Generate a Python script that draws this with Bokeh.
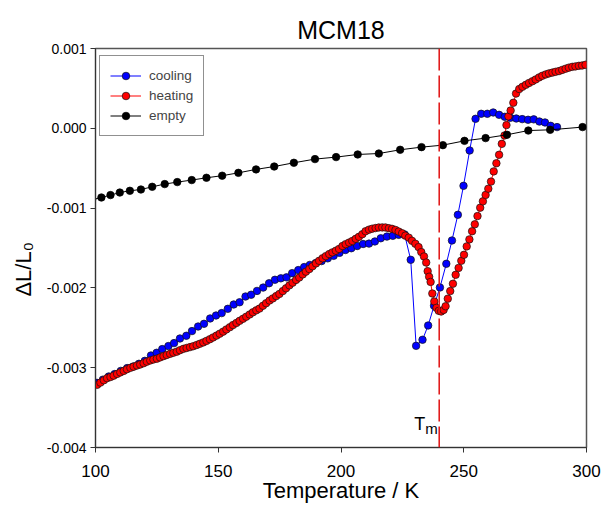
from bokeh.plotting import figure
from bokeh.models import (Range1d, FixedTicker, NumeralTickFormatter, Span, Label,
                          Legend, LegendItem)
from bokeh.embed import file_html
from bokeh.resources import INLINE

SCALE = 1e-3  # values below are in units of 1e-3

# ---------------- data ----------------
t_cool = [100.6, 103.0, 105.4, 107.8, 110.3, 112.9, 115.4, 117.7, 120.1, 122.6,
          124.9, 127.2, 129.7, 132.0, 134.4, 137.0, 139.3, 141.8, 144.2, 146.7,
          149.1, 151.4, 153.9, 156.3, 158.7, 161.1, 163.4, 165.8, 168.3, 170.7,
          173.1, 175.5, 177.8, 180.1, 182.6, 185.0, 187.3, 189.7, 192.1, 194.6,
          197.0, 199.4, 201.8, 204.2, 206.6, 209.0, 211.4, 213.8, 216.2, 218.7,
          221.1, 223.5, 225.9, 228.4, 230.6, 233.2, 235.5, 237.9, 240.3, 242.9,
          245.2, 247.6, 249.9, 252.4, 254.8, 257.1, 259.6, 262.0, 264.4, 266.7,
          269.0, 271.4, 273.8, 276.2, 278.5, 280.8, 283.1, 285.4, 288.0]
dl_cool = [-3.19, -3.15, -3.11, -3.08, -3.04, -3.005, -2.985, -2.951, -2.914, -2.847,
           -2.813, -2.767, -2.729, -2.692, -2.634, -2.600, -2.541, -2.484, -2.450, -2.383,
           -2.346, -2.316, -2.262, -2.208, -2.180, -2.108, -2.086, -2.038, -1.996, -1.942,
           -1.898, -1.880, -1.868, -1.815, -1.777, -1.739, -1.712, -1.689, -1.664, -1.630,
           -1.598, -1.560, -1.525, -1.503, -1.475, -1.450, -1.445, -1.418, -1.378, -1.357,
           -1.347, -1.335, -1.330, -1.648, -2.726, -2.650, -2.471, -2.224, -1.995, -1.698,
           -1.406, -1.084, -0.721, -0.278, 0.119, 0.182, 0.182, 0.198, 0.169, 0.144,
           0.132, 0.123, 0.115, 0.107, 0.112, 0.085, 0.073, 0.031, 0.015]

t_heat = [100.7, 102.0, 103.4, 104.7, 106.1, 107.4, 108.8, 110.1, 111.5, 112.8,
          114.2, 115.5, 116.9, 118.2, 119.6, 120.9, 122.3, 123.6, 125.0, 126.3,
          127.7, 129.0, 130.4, 131.7, 133.1, 134.4, 135.8, 137.1, 138.5, 139.8,
          141.2, 142.5, 143.9, 145.2, 146.6, 147.9, 149.3, 150.6, 152.0, 153.3,
          154.7, 156.0, 157.4, 158.7, 160.1, 161.4, 162.8, 164.1, 165.5, 166.8,
          168.2, 169.5, 170.9, 172.2, 173.6, 174.9, 176.3, 177.6, 179.0, 180.3,
          181.7, 183.0, 184.4, 185.7, 187.1, 188.4, 189.8, 191.1, 192.5, 193.8,
          195.2, 196.5, 197.9, 199.2, 200.6, 201.9, 203.3, 204.6, 206.0, 207.3,
          208.7, 210.0, 211.4, 212.7, 214.1, 215.4, 216.8, 218.1, 219.5, 220.8,
          222.2, 223.5, 224.9, 226.2, 227.6, 228.9, 230.3, 231.6, 232.7, 233.8,
          234.7, 235.3, 235.9, 236.5, 237.2, 238.0, 238.9, 239.8, 240.8, 241.8,
          242.6, 243.5, 244.5, 245.6, 246.7, 247.9, 249.0, 250.1, 251.2, 252.3,
          253.4, 254.5, 255.6, 256.7, 257.8, 258.9, 260.0, 261.1, 262.2, 263.3,
          264.4, 265.5, 266.6, 267.4, 268.2, 269.1, 270.2, 271.3, 272.6, 273.9,
          275.3, 276.6, 278.0, 279.3, 280.7, 282.0, 283.4, 284.7, 286.1, 287.4,
          288.8, 290.1, 291.5, 292.8, 294.2, 295.5, 296.9, 298.2, 299.6]
dl_heat = [-3.214, -3.187, -3.158, -3.132, -3.117, -3.100, -3.078, -3.059, -3.040, -3.020,
           -3.002, -2.987, -2.973, -2.960, -2.944, -2.925, -2.909, -2.897, -2.887, -2.871,
           -2.855, -2.841, -2.826, -2.813, -2.799, -2.781, -2.764, -2.753, -2.742, -2.731,
           -2.716, -2.700, -2.683, -2.664, -2.643, -2.621, -2.598, -2.574, -2.548, -2.521,
           -2.493, -2.466, -2.439, -2.413, -2.387, -2.361, -2.333, -2.306, -2.281, -2.259,
           -2.224, -2.192, -2.158, -2.132, -2.103, -2.076, -2.040, -2.005, -1.968, -1.935,
           -1.900, -1.870, -1.831, -1.797, -1.764, -1.729, -1.693, -1.660, -1.629, -1.602,
           -1.576, -1.555, -1.534, -1.512, -1.475, -1.452, -1.432, -1.412, -1.385, -1.360,
           -1.327, -1.290, -1.270, -1.258, -1.250, -1.243, -1.242, -1.243, -1.252, -1.260,
           -1.274, -1.294, -1.315, -1.345, -1.370, -1.410, -1.447, -1.489, -1.551, -1.606,
           -1.682, -1.790, -1.860, -1.925, -2.070, -2.170, -2.250, -2.287, -2.296, -2.276,
           -2.230, -2.135, -2.040, -1.948, -1.836, -1.750, -1.660, -1.585, -1.480, -1.392,
           -1.290, -1.203, -1.100, -0.995, -0.915, -0.835, -0.757, -0.668, -0.540, -0.438,
           -0.332, -0.195, -0.090, 0.040, 0.150, 0.223, 0.320, 0.435, 0.492, 0.520,
           0.545, 0.568, 0.590, 0.612, 0.638, 0.658, 0.675, 0.688, 0.698, 0.708,
           0.717, 0.732, 0.747, 0.760, 0.770, 0.776, 0.783, 0.787, 0.796]

t_empty = [98.6, 102.4, 106.1, 109.9, 114.0, 118.5, 123.1, 128.2, 133.3, 139.2, 145.2,
           151.6, 158.2, 165.4, 172.8, 180.8, 189.4, 198.0, 206.8, 215.4, 224.1,
           232.8, 241.5, 250.3, 258.9, 267.6, 276.3, 285.2, 298.4]
dl_empty = [-0.895, -0.867, -0.837, -0.805, -0.783, -0.767, -0.733, -0.699, -0.674, -0.649,
            -0.620, -0.594, -0.558, -0.515, -0.479, -0.432, -0.386, -0.361, -0.328,
            -0.316, -0.269, -0.236, -0.211, -0.157, -0.123, -0.081, -0.028, -0.019, 0.015]

x_ticks = [100, 150, 200, 250, 300]
y_ticks = [-0.004, -0.003, -0.002, -0.001, 0.0, 0.001]
tm = 240.0
series_names = ["cooling", "heating", "empty"]

FONT = "Liberation Sans"

p = figure(width=604, height=505, x_range=Range1d(100, 300), y_range=Range1d(-0.004, 0.001),
           output_backend="svg", toolbar_location=None, title="MCM18",
           min_border_left=95, min_border_right=18, min_border_top=48, min_border_bottom=58)

p.title.align = "center"
p.title.text_font = FONT
p.title.text_font_size = "25px"
p.title.text_font_style = "normal"
p.title.text_color = "#000000"

p.xgrid.visible = False
p.ygrid.visible = False
p.outline_line_color = "#555555"
p.outline_line_width = 1.5
p.background_fill_color = "white"
p.border_fill_color = "white"

p.xaxis.ticker = FixedTicker(ticks=x_ticks)
p.yaxis.ticker = FixedTicker(ticks=y_ticks)
p.yaxis.formatter = NumeralTickFormatter(format="0.000")
for ax in (p.xaxis, p.yaxis):
    ax.minor_tick_line_color = None
    ax.major_tick_in = 0
    ax.major_tick_out = 5
    ax.axis_line_color = "#333333"
    ax.major_tick_line_color = "#333333"
    ax.major_label_text_font = FONT
    ax.axis_label_text_font = FONT
    ax.axis_label_text_font_style = "normal"
    ax.major_label_text_color = "#000000"
    ax.axis_label_text_color = "#000000"

p.xaxis.axis_label = "Temperature / K"
# trailing no-break spaces shift the rotated label slightly downwards, as in the original
p.yaxis.axis_label = "ΔL/L₀" + "\u00a0" * 7
p.xaxis.major_label_text_font_size = "17px"
p.yaxis.major_label_text_font_size = "14px"
p.xaxis.axis_label_text_font_size = "22px"
p.yaxis.axis_label_text_font_size = "22px"
p.xaxis.major_label_standoff = 12
p.xaxis.axis_label_standoff = -2
p.yaxis.major_label_standoff = 4
p.yaxis.axis_label_standoff = 8

ys_cool = [v * SCALE for v in dl_cool]
ys_heat = [v * SCALE for v in dl_heat]
ys_empty = [v * SCALE for v in dl_empty]

l1 = p.line(t_cool, ys_cool, line_color="#0000ff", line_width=1)
s1 = p.scatter(t_cool, ys_cool, size=7.5, fill_color="#0000ff", line_color="#111111", line_width=0.7)
l2 = p.line(t_heat, ys_heat, line_color="#ff0000", line_width=1)
s2 = p.scatter(t_heat, ys_heat, size=7.5, fill_color="#ff0000", line_color="#111111", line_width=0.7)
l3 = p.line(t_empty, ys_empty, line_color="#000000", line_width=1)
s3 = p.scatter(t_empty, ys_empty, size=7.5, fill_color="#000000", line_color="#000000", line_width=0.7)

p.add_layout(Span(location=tm, dimension="height", line_color="#e01010",
                  line_dash="22 5", line_width=1.5))
p.add_layout(Label(x=tm, y=-0.004, x_units="data", y_units="data", text="T",
                   x_offset=-25, y_offset=24, text_font=FONT, text_font_size="18px",
                   text_baseline="alphabetic", text_align="left", text_color="#000000"))
p.add_layout(Label(x=tm, y=-0.004, x_units="data", y_units="data", text="m",
                   x_offset=-14, y_offset=19, text_font=FONT, text_font_size="15px",
                   text_baseline="alphabetic", text_align="left", text_color="#000000"))

legend = Legend(items=[LegendItem(label=series_names[0], renderers=[l1, s1]),
                       LegendItem(label=series_names[1], renderers=[l2, s2]),
                       LegendItem(label=series_names[2], renderers=[l3, s3])],
                location=(4, 311), label_text_font=FONT, label_text_font_size="13.5px",
                glyph_width=31, glyph_height=19, label_standoff=8, spacing=1,
                padding=10, border_line_color="#222222", border_line_width=1,
                background_fill_alpha=1.0, margin=0)
p.add_layout(legend)

open("out.html", "w").write(file_html(p, INLINE))
